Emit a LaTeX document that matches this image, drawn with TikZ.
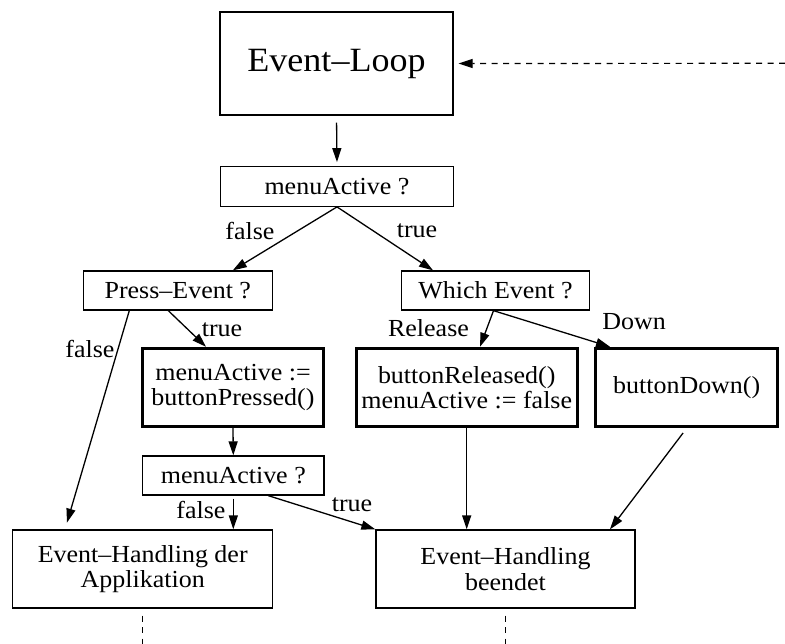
\documentclass[tikz,border=0pt]{standalone}
\usepackage{fontspec}
\setmainfont[FakeStretch=1.06]{Liberation Serif}
\usetikzlibrary{arrows.meta}
\begin{document}
\begin{tikzpicture}[x=1pt,y=-1pt,
  every node/.style={font=\fontsize{24.5}{25.5}\selectfont},
  box/.style={draw,line width=1.3pt,inner sep=0pt,align=center},
  thickbox/.style={box,line width=3pt},
  lbl/.style={inner sep=0pt},
  conn/.style={line width=1.3pt,-{Triangle[length=14pt,width=9pt]}},
  dashline/.style={line width=1.2pt,dash pattern=on 6pt off 5.5pt}]
\useasboundingbox (0,0) rectangle (785,644);

% boxes
\node[box,minimum width=233pt,minimum height=103pt,font=\fontsize{34}{36}\selectfont] (loop) at (336.5,63.5) {Event–Loop};
\node[box,minimum width=233pt,minimum height=39.5pt] (ma1) at (337,186.5) {menuActive ?};
\node[box,minimum width=189pt,minimum height=39pt] (pe) at (177.8,290.5) {Press–Event ?};
\node[box,minimum width=187.6pt,minimum height=39pt] (we) at (495.5,290.5) {Which Event ?};
\node[thickbox,minimum width=181.7pt,minimum height=78.4pt] (bp) at (233,387.5) {menuActive :=\\buttonPressed()};
\node[thickbox,minimum width=221pt,minimum height=78.4pt] (br) at (466.7,387.5) {buttonReleased()\\menuActive := false};
\node[thickbox,minimum width=182pt,minimum height=78.4pt] (bd) at (686.7,387.5) {buttonDown()};
\node[box,minimum width=181.3pt,minimum height=39pt] (ma2) at (233.3,475.5) {menuActive ?};
\node[box,minimum width=260pt,minimum height=78pt] (eha) at (142.7,569) {Event–Handling der\\Applikation};
\node[box,minimum width=259pt,minimum height=78pt] (ehb) at (505.5,569) {Event–Handling\\beendet};

% loose ends of the dashed lines
\coordinate (back) at (785,63.3);
\coordinate (outa) at (142.7,644);
\coordinate (outb) at (505.5,644);

% connectors
\draw[conn,shorten <=7pt,shorten >=4pt] (loop.south) -- (ma1.north);
\draw[conn] (ma1.south) -- ([xshift=55pt]pe.north);
\draw[conn] (ma1.south) -- ([xshift=-62.5pt]we.north);
\draw[conn,shorten >=7pt] ([xshift=-48.5pt]pe.south) -- ([xshift=-77.7pt]eha.north);
\draw[conn] ([xshift=-9.5pt]pe.south) -- ([xshift=-27pt]bp.north);
\draw[conn] (bp.south) -- (ma2.north);
\draw[conn,shorten <=3pt] (ma2.south) -- ([xshift=90.6pt]eha.north);
\draw[conn] ([xshift=35pt]ma2.south) -- (ehb.north west);
\draw[conn] ([xshift=-2pt]we.south) -- ([xshift=13.3pt]br.north);
\draw[conn] ([xshift=-2pt]we.south) -- ([xshift=-76.7pt]bd.north);
\draw[conn] (br.south) -- ([xshift=-38.8pt]ehb.north);
\draw[conn,shorten <=6pt] (bd.south) -- ([xshift=104.5pt]ehb.north);

% dashed lines
\draw[dashline,-{Triangle[length=14pt,width=9pt]},shorten >=5pt] (back) -- (loop.east);
\draw[dashline,shorten <=7pt] (eha.south) -- (outa);
\draw[dashline,shorten <=7pt] (ehb.south) -- (outb);

% branch labels
\node[lbl] (lf1) at (250,231) {false};
\node[lbl] (lt1) at (417,231) {true};
\node[lbl] (lt2) at (222,330) {true};
\node[lbl] (lf2) at (90,349) {false};
\node[lbl] (lrel) at (428.5,328) {Release};
\node[lbl] (ldown) at (634,322) {Down};
\node[lbl] (lf3) at (201,510) {false};
\node[lbl] (lt3) at (352,505) {true};
\end{tikzpicture}
\end{document}
